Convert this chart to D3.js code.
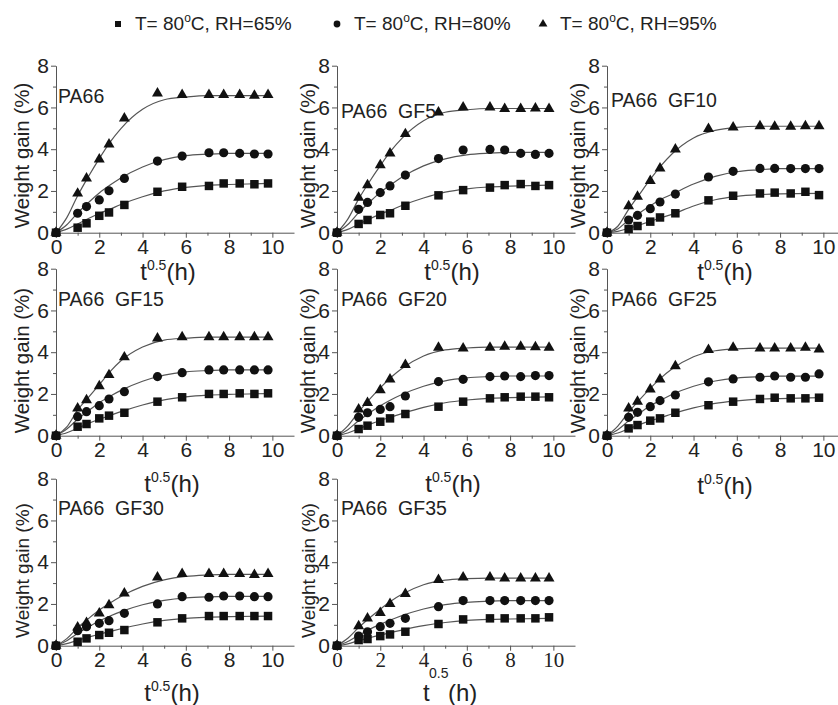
<!DOCTYPE html>
<html>
<head>
<meta charset="utf-8">
<script src="https://cdn.jsdelivr.net/npm/d3@7"></script>
<style>
  body { margin: 0; background: #fff; }
  svg { font-family: "Liberation Sans", Arial, sans-serif; }
  .axis path, .axis line { stroke: #555; stroke-width: 1; }
  .axis text { fill: #222; font-size: 21px; }
</style>
</head>
<body>
<div id="chart"></div>
<script>
// sqrt of exposure time (h^0.5) at which samples were weighed
const tSqrt = [0, 1, 1.41, 2, 2.45, 3.16, 4.69, 5.83, 7.07, 7.75, 8.49, 9.17, 9.80];
// x points used for the fitted curves
const fitX = [0, 0.5, 1, 1.5, 2, 2.5, 3, 4, 5, 6, 7, 8, 9.8];

const panelNames = ["PA66", "PA66  GF5", "PA66  GF10", "PA66  GF15",
  "PA66  GF20", "PA66  GF25", "PA66  GF30", "PA66  GF35"];

const legendLabels = ["RH=65%", "RH=80%", "RH=95%"];

// measured weight gain (%), RH=65%
const rh65 = [
  [0, 0.24, 0.45, 0.81, 0.97, 1.33, 1.96, 2.20, 2.24, 2.36, 2.36, 2.32, 2.36],
  [0, 0.42, 0.61, 0.85, 0.93, 1.29, 1.79, 2.04, 2.16, 2.28, 2.33, 2.24, 2.28],
  [0, 0.18, 0.32, 0.53, 0.73, 0.93, 1.55, 1.77, 1.88, 1.92, 1.88, 1.96, 1.80],
  [0, 0.43, 0.56, 0.83, 0.96, 1.10, 1.63, 1.84, 2.00, 2.00, 2.03, 2.00, 2.03],
  [0, 0.32, 0.48, 0.67, 0.83, 1.04, 1.39, 1.63, 1.79, 1.84, 1.87, 1.87, 1.84],
  [0, 0.35, 0.51, 0.72, 0.83, 1.10, 1.46, 1.63, 1.76, 1.82, 1.79, 1.79, 1.82],
  [0, 0.19, 0.35, 0.51, 0.62, 0.75, 1.12, 1.31, 1.42, 1.42, 1.42, 1.42, 1.42],
  [0, 0.27, 0.32, 0.46, 0.54, 0.67, 1.04, 1.26, 1.31, 1.31, 1.31, 1.31, 1.36]
];
// RH=80%
const rh80 = [
  [0, 0.93, 1.25, 1.57, 2.01, 2.60, 3.43, 3.67, 3.83, 3.83, 3.80, 3.77, 3.77],
  [0, 1.12, 1.45, 1.92, 2.24, 2.76, 3.55, 3.96, 3.99, 3.96, 3.80, 3.75, 3.80],
  [0, 0.61, 0.83, 1.15, 1.47, 1.85, 2.67, 2.94, 3.08, 3.08, 3.07, 3.07, 3.07],
  [0, 0.91, 1.15, 1.44, 1.76, 2.11, 2.83, 3.02, 3.15, 3.15, 3.15, 3.15, 3.15],
  [0, 0.88, 1.10, 1.26, 1.39, 1.90, 2.59, 2.70, 2.83, 2.86, 2.83, 2.88, 2.88],
  [0, 0.88, 1.12, 1.39, 1.68, 1.95, 2.58, 2.72, 2.80, 2.86, 2.80, 2.80, 2.96],
  [0, 0.72, 0.91, 1.07, 1.20, 1.55, 2.00, 2.35, 2.32, 2.38, 2.38, 2.35, 2.35],
  [0, 0.46, 0.67, 0.91, 1.07, 1.31, 1.87, 2.16, 2.16, 2.16, 2.16, 2.16, 2.16]
];
// RH=95%
const rh95 = [
  [0, 1.88, 2.60, 3.51, 4.23, 5.48, 6.68, 6.60, 6.60, 6.60, 6.60, 6.57, 6.60],
  [0, 1.68, 2.28, 3.24, 3.80, 4.73, 5.77, 6.01, 6.01, 5.93, 5.93, 5.96, 5.93],
  [0, 1.28, 1.73, 2.49, 3.08, 3.99, 4.98, 5.05, 5.11, 5.08, 5.08, 5.11, 5.11],
  [0, 1.31, 1.71, 2.38, 2.91, 3.76, 4.67, 4.72, 4.72, 4.72, 4.72, 4.72, 4.72],
  [0, 1.26, 1.58, 2.19, 2.70, 3.39, 4.22, 4.19, 4.22, 4.27, 4.27, 4.24, 4.22],
  [0, 1.31, 1.63, 2.22, 2.70, 3.34, 4.11, 4.22, 4.19, 4.19, 4.19, 4.22, 4.14],
  [0, 0.88, 1.10, 1.55, 1.95, 2.51, 3.28, 3.44, 3.44, 3.44, 3.44, 3.39, 3.44],
  [0, 0.94, 1.31, 1.58, 2.00, 2.48, 3.15, 3.28, 3.28, 3.23, 3.23, 3.23, 3.23]
];

// fitted curves at fitX
const fit65 = [
  [0, 0.17, 0.42, 0.68, 0.92, 1.13, 1.35, 1.72, 2.00, 2.17, 2.27, 2.31, 2.36],
  [0, 0.16, 0.41, 0.66, 0.89, 1.09, 1.30, 1.66, 1.94, 2.10, 2.19, 2.23, 2.28],
  [0, 0.06, 0.21, 0.37, 0.54, 0.72, 0.88, 1.28, 1.58, 1.74, 1.82, 1.86, 1.88],
  [0, 0.14, 0.36, 0.59, 0.79, 0.97, 1.15, 1.47, 1.72, 1.86, 1.94, 1.98, 2.02],
  [0, 0.13, 0.33, 0.54, 0.73, 0.89, 1.06, 1.36, 1.58, 1.71, 1.79, 1.82, 1.86],
  [0, 0.13, 0.33, 0.53, 0.71, 0.87, 1.04, 1.33, 1.55, 1.67, 1.75, 1.78, 1.82],
  [0, 0.10, 0.26, 0.41, 0.55, 0.68, 0.81, 1.04, 1.21, 1.31, 1.36, 1.39, 1.42],
  [0, 0.09, 0.24, 0.38, 0.51, 0.63, 0.75, 0.96, 1.11, 1.21, 1.26, 1.28, 1.31]
];
const fit80 = [
  [0, 0.38, 0.95, 1.44, 1.90, 2.28, 2.62, 3.15, 3.50, 3.69, 3.76, 3.80, 3.80],
  [0, 0.39, 0.96, 1.46, 1.93, 2.31, 2.66, 3.20, 3.54, 3.73, 3.81, 3.85, 3.85],
  [0, 0.18, 0.61, 0.95, 1.29, 1.60, 1.84, 2.33, 2.70, 2.92, 3.01, 3.07, 3.07],
  [0, 0.32, 0.79, 1.20, 1.58, 1.89, 2.17, 2.61, 2.90, 3.06, 3.12, 3.15, 3.15],
  [0, 0.29, 0.72, 1.09, 1.43, 1.72, 1.97, 2.37, 2.63, 2.77, 2.83, 2.86, 2.86],
  [0, 0.29, 0.71, 1.08, 1.43, 1.71, 1.97, 2.37, 2.62, 2.76, 2.82, 2.85, 2.85],
  [0, 0.24, 0.59, 0.90, 1.18, 1.42, 1.63, 1.96, 2.17, 2.29, 2.34, 2.36, 2.36],
  [0, 0.20, 0.50, 0.78, 1.02, 1.24, 1.44, 1.76, 1.97, 2.08, 2.13, 2.16, 2.16]
];
const fit95 = [
  [0, 0.72, 1.77, 2.69, 3.55, 4.34, 4.99, 5.91, 6.37, 6.50, 6.57, 6.57, 6.57],
  [0, 0.65, 1.61, 2.44, 3.21, 3.93, 4.52, 5.36, 5.77, 5.89, 5.95, 5.95, 5.95],
  [0, 0.31, 1.12, 1.84, 2.55, 3.21, 3.77, 4.54, 4.90, 5.05, 5.10, 5.10, 5.10],
  [0, 0.42, 1.23, 1.84, 2.45, 3.07, 3.59, 4.25, 4.58, 4.67, 4.72, 4.72, 4.72],
  [0, 0.47, 1.14, 1.74, 2.29, 2.80, 3.22, 3.82, 4.11, 4.20, 4.24, 4.24, 4.24],
  [0, 0.46, 1.13, 1.72, 2.27, 2.77, 3.19, 3.78, 4.07, 4.16, 4.20, 4.20, 4.20],
  [0, 0.34, 0.86, 1.30, 1.71, 2.05, 2.36, 2.84, 3.15, 3.32, 3.39, 3.42, 3.42],
  [0, 0.36, 0.87, 1.33, 1.75, 2.14, 2.46, 2.92, 3.14, 3.21, 3.24, 3.24, 3.24]
];

const xTicks = [0, 2, 4, 6, 8, 10];
const xMinor = [1, 3, 5, 7, 9];
const yTicks = [0, 2, 4, 6, 8];
const yMinor = [1, 3, 5, 7];

// layout
const width = 838, height = 705;
const colX = [56, 337, 607];
const rowY = [232.7, 435.7, 645.7];
const plotW = 238, plotH = 167;
const titleY = [6.2, 5.5, 6.0, 6.2, 6.2, 6.2, 6.27, 6.27];
const xLabelPos = [[168, 280], [452, 280], [725, 280], [172, 492], [453, 492], [725, 494], [172, 701]];

const svg = d3.select("#chart").append("svg")
  .attr("width", width)
  .attr("height", height);

const series = [
  { vals: rh65, fit: fit65, sym: d3.symbolSquare, size: 72 },
  { vals: rh80, fit: fit80, sym: d3.symbolCircle, size: 66 },
  { vals: rh95, fit: fit95, sym: d3.symbolTriangle, size: 52 }
];

// legend
const legX = [118, 337, 543];
legendLabels.forEach((lab, i) => {
  const g = svg.append("g").attr("transform", `translate(${legX[i]},24)`);
  g.append("path")
    .attr("d", d3.symbol().type(series[i].sym).size(i === 2 ? 34 : 36)())
    .attr("fill", "#111");
  const t = g.append("text")
    .attr("x", 17).attr("y", 6)
    .style("font-size", "19px").attr("fill", "#222");
  t.append("tspan").text("T= 80");
  t.append("tspan").attr("dy", -8).style("font-size", "12px").text("o");
  t.append("tspan").attr("dy", 8).text("C, " + lab);
});

panelNames.forEach((name, p) => {
  const col = p % 3, row = Math.floor(p / 3);
  const ax = colX[col], ay = rowY[row];

  const x = d3.scaleLinear().domain([0, 11]).range([ax, ax + plotW]);
  const y = d3.scaleLinear().domain([0, 8]).range([ay, ay - plotH]);

  const g = svg.append("g");

  // axes
  const xAxis = g.append("g").attr("class", "axis")
    .attr("transform", `translate(0,${ay})`)
    .call(d3.axisBottom(x).tickValues(xTicks).tickSize(5).tickSizeOuter(0).tickPadding(1));
  if (p === 7) xAxis.selectAll("text").style("font-family", "'Liberation Serif', 'Times New Roman', serif");
  g.append("g").attr("class", "axis")
    .attr("transform", `translate(0,${ay})`)
    .call(d3.axisBottom(x).tickValues(xMinor).tickSize(3).tickFormat(""))
    .select(".domain").remove();

  g.append("g").attr("class", "axis")
    .attr("transform", `translate(${ax},0)`)
    .call(d3.axisLeft(y).tickValues(yTicks).tickSize(5).tickSizeOuter(0).tickPadding(2));
  g.append("g").attr("class", "axis")
    .attr("transform", `translate(${ax},0)`)
    .call(d3.axisLeft(y).tickValues(yMinor).tickSize(3).tickFormat(""))
    .select(".domain").remove();

  // fitted curves
  const line = d3.line()
    .x((d, i) => x(fitX[i]))
    .y(d => y(d))
    .curve(d3.curveMonotoneX);
  series.forEach(s => {
    g.append("path")
      .attr("d", line(s.fit[p]))
      .attr("fill", "none")
      .attr("stroke", "#555")
      .attr("stroke-width", 1.2);
  });

  // markers
  series.forEach(s => {
    g.selectAll(null)
      .data(s.vals[p])
      .enter().append("path")
      .attr("transform", (d, i) => `translate(${x(tSqrt[i])},${y(d)})`)
      .attr("d", d3.symbol().type(s.sym).size(s.size)())
      .attr("fill", "#111");
  });

  // panel title
  g.append("text")
    .attr("x", ax + (col === 0 ? 2 : 4))
    .attr("y", y(titleY[p]))
    .attr("xml:space", "preserve")
    .style("white-space", "pre")
    .style("font-size", "19.5px")
    .attr("fill", "#222")
    .text(name);

  // y label
  const lx = ax - (col === 0 ? 34 : 29);
  g.append("text")
    .attr("transform", `translate(${lx},${y(row === 0 ? 3.7 : 3.6)}) rotate(-90)`)
    .attr("text-anchor", "middle")
    .attr("dy", "0.35em")
    .style("font-size", row === 2 ? "19px" : "20.5px")
    .attr("fill", "#222")
    .text("Weight gain (%)");

  // x label
  if (p < 7) {
    const [cx, by] = xLabelPos[p];
    const t = g.append("text")
      .attr("x", cx).attr("y", by)
      .attr("text-anchor", "middle")
      .style("font-size", "24px")
      .attr("fill", "#222");
    t.append("tspan").text("t");
    t.append("tspan").attr("dy", -10).style("font-size", "14px").text("0.5");
    t.append("tspan").attr("dy", 10).text("(h)");
  } else {
    // the last panel has its exponent set low, as in the original
    g.append("text").attr("x", 423).attr("y", 701)
      .style("font-size", "24px").attr("fill", "#222").text("t");
    g.append("text").attr("x", 429).attr("y", 678)
      .style("font-size", "14px").attr("fill", "#222").text("0.5");
    g.append("text").attr("x", 448).attr("y", 701)
      .style("font-size", "24px").attr("fill", "#222").text("(h)");
  }
});
</script>
</body>
</html>
